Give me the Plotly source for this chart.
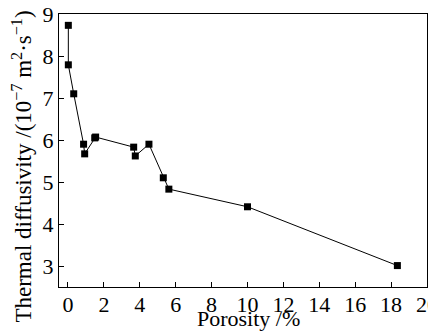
import plotly.graph_objects as go

porosity = [0.02, 0.02, 0.32, 0.87, 0.93, 1.49, 1.54, 3.66, 3.75, 4.51, 5.31, 5.62, 10.0, 18.35]
diffusivity = [8.73, 7.79, 7.10, 5.90, 5.67, 6.05, 6.07, 5.83, 5.62, 5.90, 5.10, 4.83, 4.41, 3.01]

x_ticks = list(range(0, 21, 2))
y_ticks = [3, 4, 5, 6, 7, 8, 9]

x_title = "Porosity /%"
y_title = "Thermal diffusivity /(10<sup>−7</sup> m<sup>2</sup>·s<sup>−1</sup>)"

FONT = "Liberation Serif"
FS = 22

fig = go.Figure(go.Scatter(
    x=porosity, y=diffusivity, mode="lines+markers",
    line=dict(color="black", width=1),
    marker=dict(symbol="square", size=7, color="black"),
    showlegend=False,
))

axis_common = dict(
    showline=True, linecolor="black", linewidth=1.2, mirror=True,
    ticks="inside", ticklen=5, tickwidth=1, tickcolor="black",
    showgrid=False, zeroline=False, automargin=False,
    ticklabeloverflow="allow",
    tickfont=dict(family=FONT, size=FS, color="black"),
)

fig.update_xaxes(range=[-0.5, 20], tickvals=x_ticks, ticktext=[str(v) for v in x_ticks],
                 ticklabelstandoff=-3, **axis_common)
fig.update_yaxes(range=[2.5, 9], tickvals=y_ticks, ticktext=[str(v) for v in y_ticks],
                 **axis_common)

fig.add_annotation(text=x_title, xref="paper", yref="paper", x=0.516, y=-0.1136,
                   xanchor="center", yanchor="middle", showarrow=False,
                   font=dict(family=FONT, size=FS, color="black"))
fig.add_annotation(text=y_title, xref="paper", yref="paper", x=-0.099, y=0.4396,
                   xanchor="center", yanchor="middle", showarrow=False, textangle=-90,
                   font=dict(family=FONT, size=23, color="black"))

# page body has an 8px margin, so the figure is sized to land where the reference box is
fig.update_layout(
    width=428, height=328,
    margin=dict(l=51, r=9, t=6, b=49),
    paper_bgcolor="white", plot_bgcolor="white",
)

fig.write_html("out.html")
